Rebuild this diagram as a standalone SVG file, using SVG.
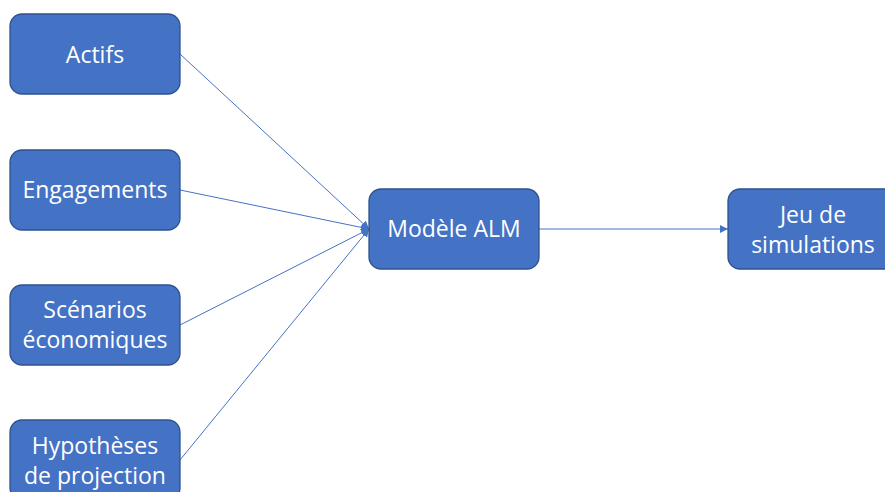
<svg xmlns="http://www.w3.org/2000/svg" width="885" height="492" viewBox="0 0 885 492">
  <defs>
    <style>
      .node rect { fill: #4472C4; stroke: #2F528F; stroke-width: 1.3; }
      .node text { fill: #FFFFFF; font-family: "Open Sans", "Noto Sans", sans-serif; font-size: 23px; text-anchor: middle; }
      .edge { stroke: #4472C4; stroke-width: 1; fill: none; }
    </style>
    <marker id="arrow" viewBox="0 0 10 10" refX="10" refY="5" markerWidth="8" markerHeight="8" markerUnits="userSpaceOnUse" orient="auto">
      <path d="M0,0 L10,5 L0,10 Z" fill="#4472C4"/>
    </marker>
  </defs>

  <g id="connectors">
    <line class="edge" x1="180" y1="54" x2="369" y2="229" marker-end="url(#arrow)"/>
    <line class="edge" x1="180" y1="190" x2="369" y2="229" marker-end="url(#arrow)"/>
    <line class="edge" x1="180" y1="325" x2="369" y2="229" marker-end="url(#arrow)"/>
    <line class="edge" x1="180" y1="460" x2="369" y2="229" marker-end="url(#arrow)"/>
    <line class="edge" x1="539" y1="229" x2="728" y2="229" marker-end="url(#arrow)"/>
  </g>

  <g id="actifs" class="node">
    <rect x="10" y="14" width="170" height="80" rx="12"/>
    <text x="95" y="63">Actifs</text>
  </g>
  <g id="engagements" class="node">
    <rect x="10" y="150" width="170" height="80" rx="12"/>
    <text x="95" y="198">Engagements</text>
  </g>
  <g id="scenarios" class="node">
    <rect x="10" y="285" width="170" height="80" rx="12"/>
    <text x="95" y="318">Scénarios</text>
    <text x="95" y="348">économiques</text>
  </g>
  <g id="hypotheses" class="node">
    <rect x="10" y="420" width="170" height="80" rx="12"/>
    <text x="95" y="454">Hypothèses</text>
    <text x="95" y="484">de projection</text>
  </g>
  <g id="modele-alm" class="node">
    <rect x="369" y="189" width="170" height="80" rx="12"/>
    <text x="454" y="237">Modèle ALM</text>
  </g>
  <g id="jeu-simulations" class="node">
    <rect x="728" y="189" width="170" height="80" rx="12"/>
    <text x="813" y="223">Jeu de</text>
    <text x="813" y="253">simulations</text>
  </g>
</svg>
